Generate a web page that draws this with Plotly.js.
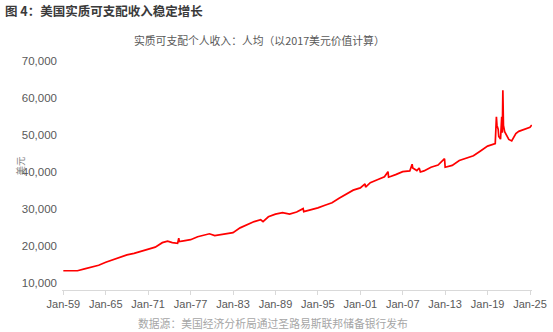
<!DOCTYPE html>
<html>
<head>
<meta charset="utf-8">
<script src="https://cdn.plot.ly/plotly-3.0.1.min.js"></script>
<style>html,body{margin:0;padding:0;background:#fff;}#chart{width:553px;height:332px;}</style>
</head>
<body>
<div id="chart"></div>
<script>
const months = [
  "1959-01","1960-01","1961-01","1962-01","1963-01","1964-01","1965-01","1966-01","1967-01","1968-01",
  "1969-01","1970-01","1971-01","1972-01","1973-01","1973-10","1974-06","1975-03","1975-05","1975-06",
  "1976-01","1977-01","1978-01","1979-01","1979-09","1980-06","1981-01","1982-01","1983-01","1984-01",
  "1985-01","1986-01","1986-12","1987-04","1988-01","1989-01","1990-01","1991-01","1992-01","1992-12",
  "1993-01","1994-01","1995-01","1996-01","1997-01","1998-01","1999-01","2000-01","2001-01","2001-09",
  "2001-10","2002-06","2003-06","2004-06","2004-12","2005-01","2006-01","2007-01","2008-01","2008-05",
  "2008-06","2009-01","2009-05","2009-07","2010-01","2011-01","2012-01","2012-12","2013-01","2014-01",
  "2015-01","2016-01","2017-01","2018-01","2019-01","2020-02","2020-04","2020-05","2020-06","2020-07",
  "2020-08","2020-11","2021-01","2021-02","2021-03","2021-04","2021-06","2021-09","2022-01","2022-06",
  "2023-01","2023-06","2024-01","2024-06","2025-01","2025-04"
];
const income = [
  13200,13250,13200,13700,14100,14700,15500,16200,16800,17500,
  17900,18500,19200,19600,20800,21200,20800,20600,22000,21100,
  21300,21600,22400,22900,23200,22700,22900,23200,23500,24800,
  25700,26500,27000,26500,27800,28500,28900,28500,29100,30000,
  29200,29600,30200,30900,31600,32800,34000,35000,35600,36700,
  35800,37000,37800,38600,40000,38500,39200,40000,40200,42000,
  41000,40300,41000,39900,40200,41200,41800,43500,41200,41700,
  43000,43700,44300,45600,46900,47600,54800,52500,51800,51500,
  49500,48800,54800,50500,62000,52500,50800,49800,48700,48300,
  50300,50900,51300,51700,52000,52600
];
const yTicks = [10000,20000,30000,40000,50000,60000,70000];

const FONT = "Liberation Sans, Arial, Noto Sans CJK SC, sans-serif";
const CJK = "Noto Sans CJK SC, Liberation Sans, sans-serif";

const trace = {
  x: months, y: income, type: "scatter", mode: "lines",
  line: {color: "#ff0000", width: 1.7}, hoverinfo: "skip"
};

const layout = {
  width: 553, height: 332,
  margin: {l: 62, r: 21, t: 55, b: 42},
  paper_bgcolor: "#ffffff", plot_bgcolor: "#ffffff",
  showlegend: false,
  font: {family: FONT, color: "#595959", size: 11},
  title: {
    text: "<b>图 4：美国实质可支配收入稳定增长</b>",
    font: {family: CJK, size: 12.5, color: "#3a3a3a"},
    xref: "container", yref: "container", x: 0.009, xanchor: "left", y: 0.964, yanchor: "middle"
  },
  xaxis: {
    type: "date",
    range: ["1958-10-25", "2025-04-14"],
    tick0: "1959-01-01", dtick: "M72", tickformat: "%b-%y",
    showgrid: false, zeroline: false,
    showline: true, linecolor: "#d9d9d9", linewidth: 1,
    ticks: "outside", ticklen: 4, tickcolor: "#d9d9d9",
    tickfont: {family: FONT, size: 11, color: "#595959"}
  },
  yaxis: {
    range: [8000, 71540],
    tickvals: yTicks, tickformat: ",d",
    showgrid: false, zeroline: false, showline: false, ticks: "",
    ticklabelstandoff: 4,
    tickfont: {family: FONT, size: 11.5, color: "#595959"}
  },
  annotations: [
    {text: "实质可支配个人收入：人均（以2017美元价值计算）", xref: "paper", yref: "paper",
     x: 0.421, y: 1.064, xanchor: "center", yanchor: "middle", showarrow: false,
     font: {family: CJK, size: 10.8, color: "#595959"}},
    {text: "数据源：美国经济分析局通过圣路易斯联邦储备银行发布", xref: "paper", yref: "paper",
     x: 0.449, y: -0.139, xanchor: "center", yanchor: "middle", showarrow: false,
     font: {family: CJK, size: 10.8, color: "#a6a6a6"}},
    {text: "美元", xref: "paper", yref: "paper", x: -0.09, y: 0.528,
     xanchor: "center", yanchor: "middle", textangle: -90, showarrow: false,
     font: {family: CJK, size: 9.5, color: "#808080"}}
  ]
};

Plotly.newPlot("chart", [trace], layout, {staticPlot: true, displayModeBar: false});
</script>
</body>
</html>
